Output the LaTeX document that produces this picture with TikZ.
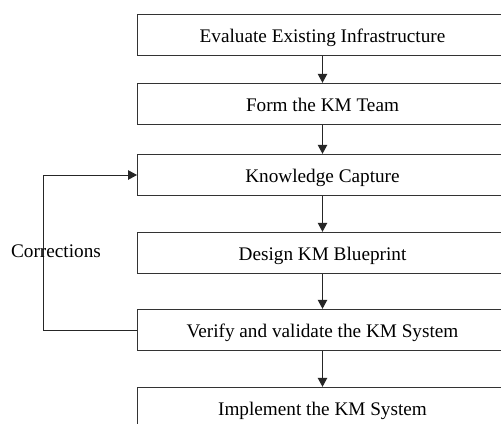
\documentclass[tikz,border=0pt]{standalone}
\usepackage{fontspec}
\setmainfont{Liberation Serif}
\usetikzlibrary{arrows.meta}
\tikzset{
  stage/.style={draw=black!80, line width=0.9bp, minimum width=370bp, minimum height=41.5bp,
                inner sep=0pt, text height=15bp, text depth=0pt,
                font=\fontsize{19.3}{21}\selectfont, text=black},
  flow/.style={draw=black!85, line width=1bp, -{Triangle[width=9.5bp,length=9bp]}},
  tag/.style={font=\fontsize{19.3}{21}\selectfont, text=black, inner sep=0pt}
}
\begin{document}
\begin{tikzpicture}[x=1bp,y=-1bp]
\clip (0,0) rectangle (501,423);
\fill[white] (0,0) rectangle (501,423);
% process stages, top to bottom
\node[stage] (eval)      at (322.5,35)    {Evaluate Existing Infrastructure};
\node[stage] (team)      at (322.5,104)   {Form the KM Team};
\node[stage] (capture)   at (322.5,175)   {Knowledge Capture};
\node[stage] (design)    at (322.5,253)   {Design KM Blueprint};
\node[stage] (verify)    at (322.5,330)   {Verify and validate the KM System};
\node[stage] (implement) at (322.5,408)   {Implement the KM System};
% forward flow
\draw[flow] (eval) -- (team);
\draw[flow] (team) -- (capture);
\draw[flow] (capture) -- (design);
\draw[flow] (design) -- (verify);
\draw[flow] (verify) -- (implement);
% feedback loop
\coordinate (loopbot) at (43.5,330);
\coordinate (looptop) at (43.5,175);
\draw[flow] (verify.west) -- (loopbot) -- (looptop) -- (capture.west);
\node[tag, anchor=base] (corr) at (56,257.5) {Corrections};
\end{tikzpicture}
\end{document}
